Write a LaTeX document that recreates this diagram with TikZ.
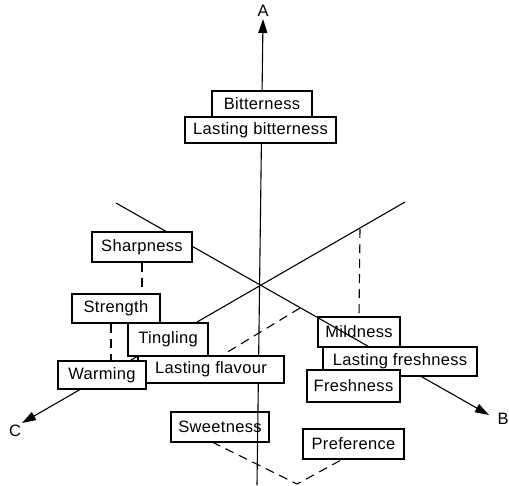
\documentclass[tikz,border=0pt]{standalone}
\usepackage{fontspec}
\setmainfont[LetterSpace=2]{Liberation Sans}
\usetikzlibrary{arrows.meta}
\begin{document}
\begin{tikzpicture}[x=1pt,y=-1pt,
  box/.style 2 args={draw, fill=white, line width=1.7pt, inner sep=0pt,
    minimum width=#1pt, minimum height=#2pt, font=\fontsize{16.5}{19}\selectfont},
  axlbl/.style={inner sep=0pt, font=\fontsize{16.5}{19}\selectfont},
  ax/.style={line width=1.1pt},
  tip/.style={-{Triangle[length=14pt,width=9pt]}},
  proj/.style={line width=1.1pt, dash pattern=on 9pt off 6pt}]
\useasboundingbox (0,0) rectangle (509,485);
% axis end points
\coordinate (Abot) at (257,485);
\coordinate (Atop) at (263,19);
\coordinate (Bstart) at (116,203);
\coordinate (Btip) at (489,415);
\coordinate (Cstart) at (405,202);
\coordinate (Ctip) at (22,423);
\coordinate (pB) at (300,308);
\coordinate (pC) at (360,229);
\coordinate (w1) at (111,0);
\coordinate (vtx) at (297,484);
% boxes lying under the axes
\node[box={82}{30}] (mild) at (359,332) {Mildness};
\node[box={98}{30}] (sweet) at (220,427) {Sweetness};
% axes
\draw[ax,tip] (Abot) -- (Atop);
\draw[ax,tip] (Bstart) -- (Btip);
\draw[ax,tip] (Cstart) -- (Ctip);
\node[axlbl] (A) at (263,11) {A};
\node[axlbl] (B) at (503,419) {B};
\node[axlbl] (C) at (15,431) {C};
% other boxes
\node[box={100}{26}] (bit) at (262,104) {Bitterness};
\node[box={151}{26}] (lbit) at (260.5,130) {Lasting bitterness};
\node[box={100}{30}] (sharp) at (142,247) {Sharpness};
\node[box={88}{29}] (stren) at (116,308.5) {Strength};
\node[box={146}{27}] (lflav) at (211,369.5) {Lasting flavour};
\node[box={80}{33}] (ting) at (168,339.5) {Tingling};
\node[box={88}{28}] (warm) at (102,375) {Warming};
\node[box={154}{29}] (lfresh) at (400,361.5) {Lasting freshness};
\node[box={93}{32}] (fresh) at (353.5,386) {Freshness};
\node[box={101}{30}] (pref) at (353.5,444) {Preference};
% projection lines
\draw[proj] (pC) -- (mild.north);
\draw[proj] (pB) -- (223,354.8);
\draw[proj] (sharp.south) -- (sharp.south |- stren.north);
\draw[proj] (w1 |- stren.south) -- (w1 |- warm.north);
\draw[proj] (212,442) -- (vtx) -- (343,459);
\end{tikzpicture}
\end{document}
